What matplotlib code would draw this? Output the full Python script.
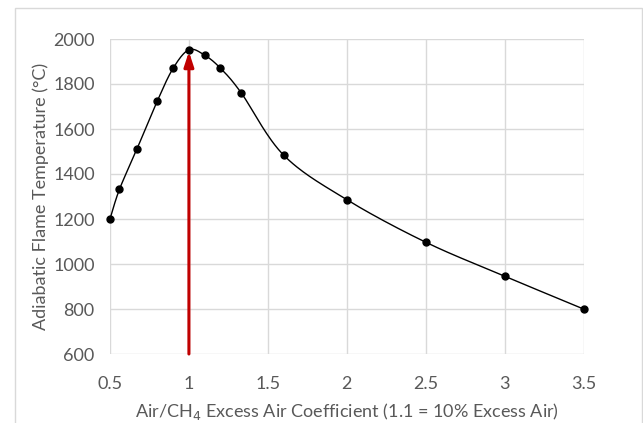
import numpy as np
import matplotlib.pyplot as plt
from matplotlib.patches import Rectangle

# values
air_coeff = [0.5, 0.56, 0.67, 0.8, 0.9, 1.0, 1.1, 1.2, 1.33, 1.6, 2.0, 2.5, 3.0, 3.5]
flame_temp = [1200, 1332, 1510, 1725, 1870, 1952, 1928, 1870, 1762, 1484, 1286, 1097, 946, 800]
x_ticks = [0.5, 1, 1.5, 2, 2.5, 3, 3.5]
x_labels = ['0.5', '1', '1.5', '2', '2.5', '3', '3.5']
y_ticks = [600, 800, 1000, 1200, 1400, 1600, 1800, 2000]
stoich = 1.0


def smooth_curve(xs, ys, n=30):
    # Excel-like smoothed line (Catmull-Rom through the points)
    p = np.column_stack([xs, ys]).astype(float)
    p = np.vstack([p[0], p, p[-1]])
    out = []
    t = np.linspace(0, 1, n)
    for i in range(1, len(p) - 2):
        p0, p1, p2, p3 = p[i - 1], p[i], p[i + 1], p[i + 2]
        seg = 0.5 * ((2 * p1)[None, :] + np.outer(t, -p0 + p2)
                     + np.outer(t**2, 2 * p0 - 5 * p1 + 4 * p2 - p3)
                     + np.outer(t**3, -p0 + 3 * p1 - 3 * p2 + p3))
        out.append(seg)
    out = np.vstack(out)
    return out[:, 0], out[:, 1]


plt.rcParams['font.family'] = ['Lato', 'DejaVu Sans']

fig = plt.figure(figsize=(6.43, 4.23), dpi=100)
ax = fig.add_axes([110 / 643, 1 - 354 / 423, (583.5 - 110) / 643, (354 - 39) / 423])

fig.patches.append(Rectangle((15.5 / 643, -0.1), (641.5 - 15.5) / 643, 1.1 - 8.5 / 423,
                             transform=fig.transFigure, fill=False,
                             edgecolor='#D9D9D9', linewidth=1))

sx, sy = smooth_curve(air_coeff, flame_temp)
ax.plot(sx, sy, color='black', linewidth=1, zorder=3, clip_on=False)
ax.plot(air_coeff, flame_temp, 'o', color='black', markersize=5, zorder=4, clip_on=False)

ax.annotate('', xy=(stoich, flame_temp[5] - 8), xytext=(stoich, 600),
            arrowprops=dict(arrowstyle='-|>,head_length=0.55,head_width=0.18',
                            color='#C00000', lw=2.2,
                            mutation_scale=16, shrinkA=0, shrinkB=0),
            zorder=5)

ax.set_xlim(0.5, 3.5)
ax.set_ylim(600, 2000)
ax.set_xticks(x_ticks)
ax.set_xticklabels(x_labels)
ax.set_yticks(y_ticks)
ax.grid(True, color='#D9D9D9', linewidth=1)
ax.set_axisbelow(True)
for s in ax.spines.values():
    s.set_visible(False)
ax.tick_params(axis='x', length=0, labelsize=13, labelcolor='#595959', pad=16)
ax.tick_params(axis='y', length=0, labelsize=13, labelcolor='#595959', pad=11)

ax.set_xlabel('Air/CH$_4$ Excess Air Coefficient (1.1 = 10% Excess Air)',
              fontsize=13, color='#595959', labelpad=6)
ax.set_ylabel('Adiabatic Flame Temperature (°C)', fontsize=13, color='#595959', labelpad=3)

fig.savefig('out.png', dpi=100)
